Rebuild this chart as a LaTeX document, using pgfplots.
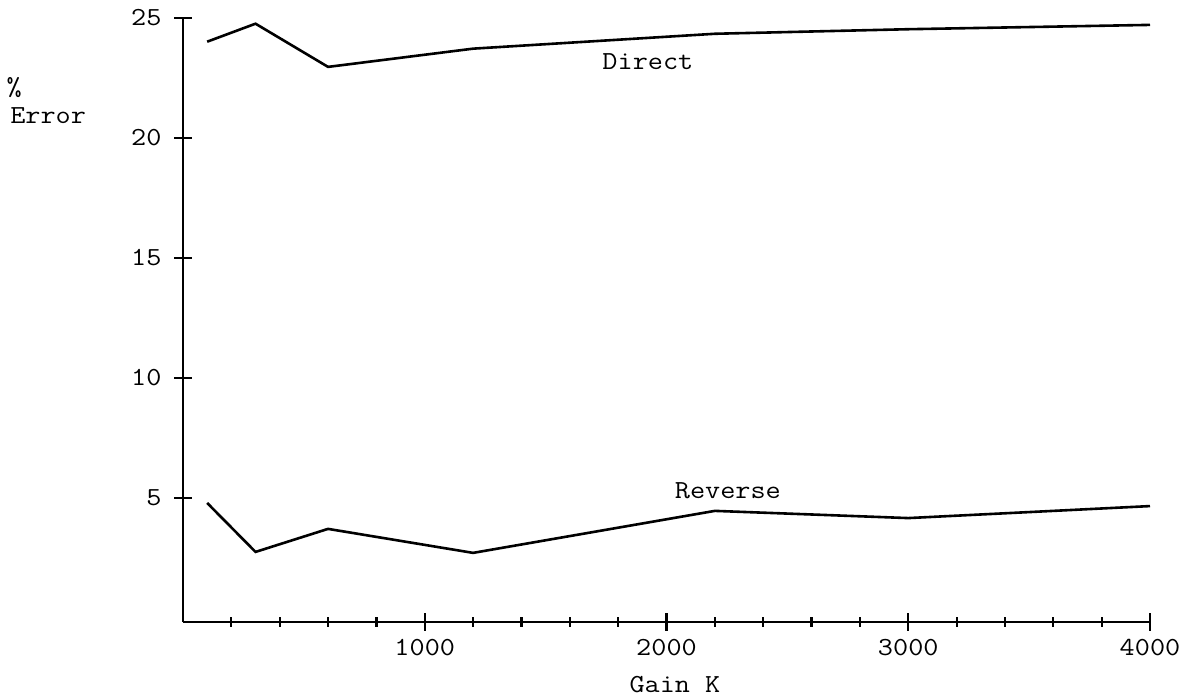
\documentclass[border=0pt]{standalone}
\usepackage{fontspec}
\setmainfont[FakeStretch=1.13]{Latin Modern Mono}
\usepackage{pgfplots}
\pgfplotsset{compat=1.18}
\usetikzlibrary{calc}
\begin{document}
\fontsize{13pt}{15pt}\selectfont
\begin{tikzpicture}
\begin{axis}[
  scale only axis,
  width=483.5pt, height=302.15pt,
  xmin=0, xmax=4000, ymin=-0.18, ymax=25,
  axis x line*=bottom, axis y line*=left,
  axis line style={line width=1.1pt, black},
  xtick={1000,2000,3000,4000},
  minor xtick={200,400,600,800,1200,1400,1600,1800,2200,2400,2600,2800,3200,3400,3600,3800},
  ytick={5,10,15,20,25},
  xtick align=center, ytick align=center,
  major tick length=8.5pt, minor tick length=4.5pt,
  every tick/.append style={black, line width=1.1pt},
  tick label style={font=\fontsize{13pt}{15pt}\selectfont},
  yticklabel style={xshift=-2pt},
  /pgf/number format/assume math mode=true,
  /pgf/number format/1000 sep={},
  clip=false,
]
\addplot[black, line width=1.3pt] coordinates {
  (100,24.0) (300,24.75) (600,22.95) (1200,23.71) (2200,24.33) (3000,24.52) (4000,24.7)
};
\addplot[black, line width=1.3pt] coordinates {
  (100,4.78) (300,2.74) (600,3.7) (1200,2.7) (2200,4.45) (3000,4.15) (4000,4.65)
};
\node at (axis cs:1923,23.15) {Direct};
\node at (axis cs:2254,5.28) {Reverse};
\node at (axis cs:2035,-2.8) {Gain K};
\node at (axis cs:-698,22.1) {\%};
\node[anchor=west, inner sep=0pt] at (axis cs:-716,20.9) {Error};
\end{axis}
\pgfresetboundingbox
\path[use as bounding box] ($(current axis.south west)+(-91.5pt,-39pt)$) rectangle ($(current axis.north east)+(18.5pt,8.85pt)$);
\end{tikzpicture}
\end{document}
